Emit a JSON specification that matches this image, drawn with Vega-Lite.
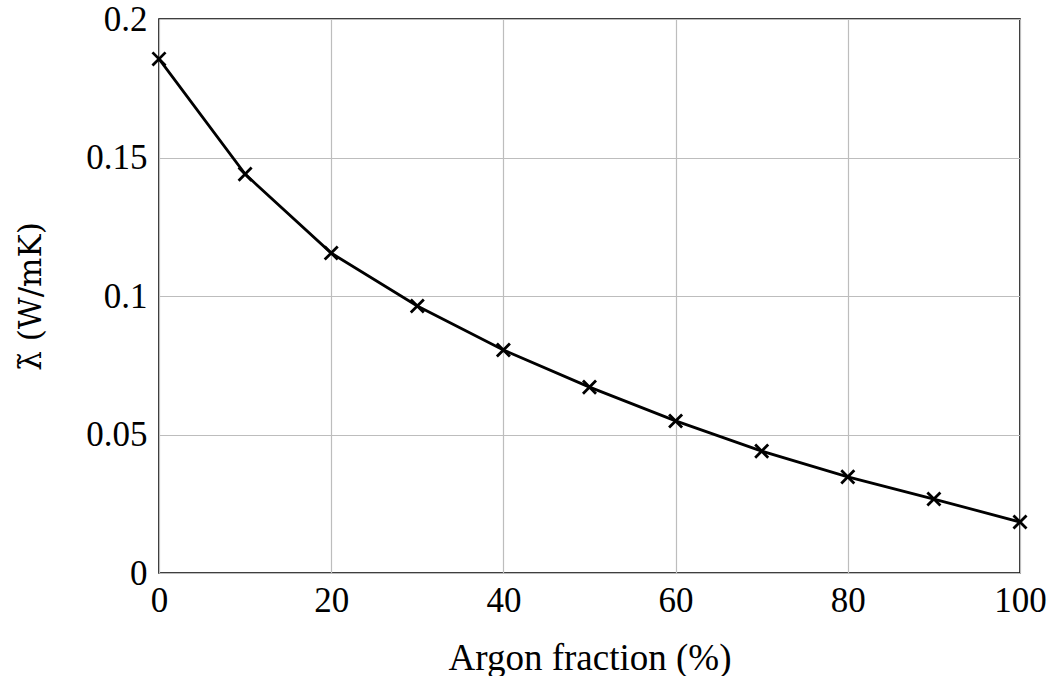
{
  "$schema": "https://vega.github.io/schema/vega-lite/v6.json",
  "width": 861,
  "height": 554,
  "autosize": {"type": "none"},
  "padding": {"left": 159, "top": 19, "right": 31, "bottom": 103},
  "background": "white",
  "config": {
    "view": {"stroke": "black", "strokeWidth": 1.6},
    "font": "Liberation Serif",
    "axis": {
      "labelFont": "Liberation Serif",
      "titleFont": "Liberation Serif",
      "labelFontSize": 35,
      "titleFontSize": 37,
      "labelColor": "black",
      "titleColor": "black",
      "titleFontWeight": "normal",
      "domain": false,
      "ticks": false,
      "gridColor": "#bdbdbd",
      "gridWidth": 1.2,
      "gridOpacity": 1
    }
  },
  "data": {
    "values": [
      {"argon": 0, "lambda": 0.1856},
      {"argon": 10, "lambda": 0.1440},
      {"argon": 20, "lambda": 0.1155},
      {"argon": 30, "lambda": 0.0964},
      {"argon": 40, "lambda": 0.0805},
      {"argon": 50, "lambda": 0.0671},
      {"argon": 60, "lambda": 0.0549},
      {"argon": 70, "lambda": 0.0440},
      {"argon": 80, "lambda": 0.0347},
      {"argon": 90, "lambda": 0.0267},
      {"argon": 100, "lambda": 0.0184}
    ]
  },
  "encoding": {
    "x": {
      "field": "argon",
      "type": "quantitative",
      "scale": {"domain": [0, 100], "nice": false, "zero": false},
      "axis": {
        "values": [0, 20, 40, 60, 80, 100],
        "title": "Argon fraction (%)",
        "labelPadding": 10,
        "titlePadding": 22,
        "labelFlush": false
      }
    },
    "y": {
      "field": "lambda",
      "type": "quantitative",
      "scale": {"domain": [0, 0.2], "nice": false},
      "axis": {
        "values": [0, 0.05, 0.1, 0.15, 0.2],
        "labelExpr": "datum.value == 0 ? '0' : format(datum.value, '~g')",
        "title": "λ̃ (W/mK)",
        "titleFont": "DejaVu Serif",
        "titleFontSize": 31,
        "labelPadding": 12,
        "titlePadding": 38,
        "labelFlush": false
      }
    }
  },
  "layer": [
    {
      "mark": {"type": "line", "color": "black", "strokeWidth": 2.8}
    },
    {
      "mark": {
        "type": "point",
        "shape": "M-1,-1L1,1M-1,1L1,-1",
        "size": 170,
        "stroke": "black",
        "strokeWidth": 2.8,
        "filled": false,
        "opacity": 1
      }
    }
  ]
}
